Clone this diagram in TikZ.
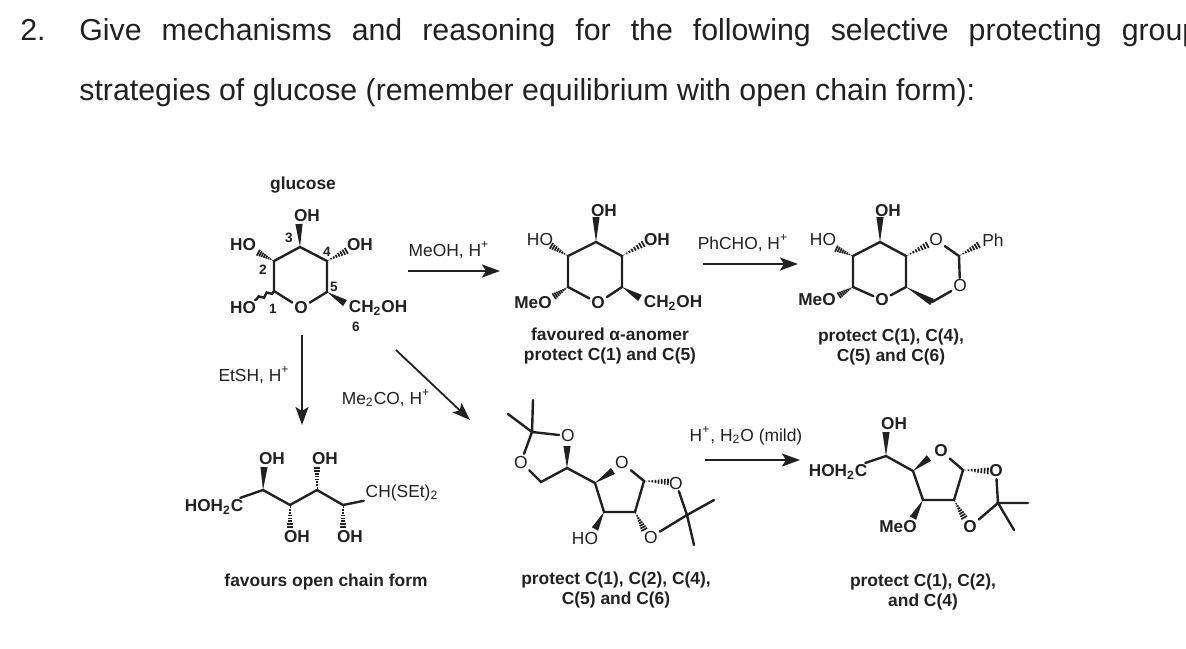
\documentclass[tikz,border=0pt]{standalone}
\usepackage{fontspec}
\setmainfont{Liberation Sans}
\usetikzlibrary{calc,arrows.meta,decorations.pathmorphing}

\definecolor{ink}{gray}{0.13}
\tikzset{
	bond/.style={line width=1.2pt,ink,line cap=round},
	rxn/.style={-{Stealth[length=9pt,width=6.5pt,inset=2pt]},line width=0.9pt,ink},
	wig/.style={bond,decorate,decoration={snake,amplitude=0.9pt,segment length=4.5pt}},
	atom/.style={inner sep=0pt,outer sep=1pt,text=ink,font=\fontsize{8.6}{10}\selectfont\bfseries},
	lite/.style={inner sep=0pt,outer sep=1pt,text=ink,font=\fontsize{8.7}{10}\selectfont},
	num/.style={inner sep=0pt,text=ink,font=\fontsize{6.8}{8}\selectfont\bfseries},
	legend/.style={inner sep=0pt,text=ink,align=center,font=\fontsize{8.7}{10}\selectfont\bfseries},
	head/.style={inner sep=0pt,anchor=base west,text=ink,font=\fontsize{15.15}{18}\selectfont},
}
\newcommand{\wedgebond}[2]{\fill[ink] (#1) -- ($(#2)!1.8pt!90:(#1)$) -- ($(#2)!1.8pt!-90:(#1)$) -- cycle;}
\newcommand{\hashbond}[2]{\foreach \t in {0.08,0.2,0.32,0.44,0.56,0.68,0.8,0.92} {
	\coordinate (hh) at ($(#1)!\t!(#2)$);
	\draw[ink,line width=0.85pt] ($(hh)!{\t*1.8pt}!90:(#2)$) -- ($(hh)!{\t*1.8pt}!-90:(#2)$);
}}

\begin{document}
\begin{tikzpicture}[x=0.5pt,y=-0.5pt]
	\useasboundingbox (0,0) rectangle (1186,648);

	% question
	\begin{scope}
		\clip (0,0) rectangle (1186,648);
		\node[head] (qnum) at (20,40) {2.};
		\node[head] (qone) at (79,40) {\makebox[560pt][s]{Give mechanisms and reasoning for the following selective protecting group}};
		\node[head] (qtwo) at (79,100) {strategies of glucose (remember equilibrium with open chain form):};
	\end{scope}

	% glucose
	\node[legend] (gName) at (303,185) {glucose};
	\coordinate (gC1) at (274,291);
	\coordinate (gC2) at (274,261);
	\coordinate (gC3) at (300,247);
	\coordinate (gC4) at (327,261);
	\coordinate (gC5) at (327,292);
	\node[atom] (gO) at (301,308) {O};
	\node[atom] (gOH3) at (307,216) {OH};
	\node[atom] (gOH2) at (243,245) {HO};
	\node[atom] (gOH1) at (243,308) {HO};
	\node[atom] (gOH4) at (360,245) {OH};
	\node[atom] (gCH) at (378,308) {CH\textsubscript{2}OH};
	\coordinate (gE3) at (299,224);
	\coordinate (gE2) at (257,252);
	\coordinate (gE1) at (255,300);
	\coordinate (gE4) at (348,250);
	\coordinate (gE5) at (345,303);
	\node[num] (gN1) at (273,309) {1};
	\node[num] (gN2) at (263,270) {2};
	\node[num] (gN3) at (289,238) {3};
	\node[num] (gN4) at (327,252) {4};
	\node[num] (gN5) at (334,287) {5};
	\node[num] (gN6) at (356,327) {6};
	\draw[bond] (gO) -- (gC1) -- (gC2) -- (gC3) -- (gC4) -- (gC5) -- (gO);
	\wedgebond{gC3}{gE3}
	\wedgebond{gC5}{gE5}
	\hashbond{gC2}{gE2}
	\hashbond{gC4}{gE4}
	\draw[wig] (gC1) -- (gE1);

	% methyl glycoside
	\coordinate (mC1) at (568,287);
	\coordinate (mC2) at (568,256);
	\coordinate (mC3) at (596,242);
	\coordinate (mC4) at (622,256);
	\coordinate (mC5) at (622,287);
	\node[atom] (mO) at (598,303) {O};
	\node[atom] (mOH3) at (604,211) {OH};
	\node[lite] (mOH2) at (540,240) {HO};
	\node[atom] (mOH4) at (657,240) {OH};
	\node[atom] (mOMe) at (533,303) {MeO};
	\node[atom] (mCH) at (673,303) {CH\textsubscript{2}OH};
	\coordinate (mE3) at (596,217);
	\coordinate (mE2) at (550,245);
	\coordinate (mE4) at (645,243);
	\coordinate (mE1) at (553,297);
	\coordinate (mE5) at (640,298);
	\draw[bond] (mO) -- (mC1) -- (mC2) -- (mC3) -- (mC4) -- (mC5) -- (mO);
	\wedgebond{mC3}{mE3}
	\wedgebond{mC5}{mE5}
	\hashbond{mC2}{mE2}
	\hashbond{mC4}{mE4}
	\hashbond{mC1}{mE1}
	\node[legend] (mLeg) at (610,346) {favoured α-anomer\\protect C(1) and C(5)};

	% benzylidene
	\coordinate (bC1) at (853,287);
	\coordinate (bC2) at (853,256);
	\coordinate (bC3) at (880,242);
	\coordinate (bC4) at (906,256);
	\coordinate (bC5) at (906,287);
	\coordinate (bC6) at (932,302);
	\coordinate (bCP) at (959,256);
	\node[atom] (bO) at (882,300) {O};
	\node[atom] (bOH3) at (888,211) {OH};
	\node[lite] (bOH2) at (823,240) {HO};
	\node[atom] (bOMe) at (817,300) {MeO};
	\node[lite] (bOa) at (936,240) {O};
	\node[lite] (bOb) at (960,286) {O};
	\node[lite] (bPh) at (993,240) {Ph};
	\coordinate (bE3) at (880,217);
	\coordinate (bE2) at (835,248);
	\coordinate (bE1) at (838,296);
	\coordinate (bE4) at (929,244);
	\coordinate (bEP) at (980,244);
	\draw[bond] (bO) -- (bC1) -- (bC2) -- (bC3) -- (bC4) -- (bC5) -- (bO);
	\draw[bond] (bOa) -- (bCP) -- (bOb) -- (bC6);
	\wedgebond{bC3}{bE3}
	\wedgebond{bC5}{bC6}
	\hashbond{bC2}{bE2}
	\hashbond{bC1}{bE1}
	\hashbond{bC4}{bE4}
	\hashbond{bCP}{bEP}
	\node[legend] (bLeg) at (891,347) {protect C(1), C(4),\\C(5) and C(6)};

	% open chain
	\node[atom] (tHO) at (214,507) {HOH\textsubscript{2}C};
	\coordinate (tC2) at (263,490);
	\coordinate (tC3) at (290,505);
	\coordinate (tC4) at (317,490);
	\coordinate (tC5) at (343,505);
	\node[lite] (tCH) at (402,493) {CH(SEt)\textsubscript{2}};
	\node[atom] (tOHa) at (272,459) {OH};
	\node[atom] (tOHb) at (325,459) {OH};
	\node[atom] (tOHc) at (297,537) {OH};
	\node[atom] (tOHd) at (350,537) {OH};
	\coordinate (tEa) at (264,467);
	\coordinate (tEb) at (317,466);
	\coordinate (tEc) at (290,529);
	\coordinate (tEd) at (343,529);
	\draw[bond] (tHO) -- (tC2) -- (tC3) -- (tC4) -- (tC5) -- (tCH);
	\wedgebond{tC2}{tEa}
	\hashbond{tC4}{tEb}
	\hashbond{tC3}{tEc}
	\hashbond{tC5}{tEd}
	\node[legend] (tLeg) at (326,582) {favours open chain form};

	% diacetonide
	\coordinate (dCa) at (532,432);
	\coordinate (dMa) at (533,400);
	\coordinate (dMb) at (508,414);
	\node[lite] (dOa) at (568,436) {O};
	\node[lite] (dOb) at (521,462) {O};
	\coordinate (dC6) at (541,482);
	\coordinate (dC5) at (567,468);
	\coordinate (dC4) at (595,483);
	\node[lite] (dO) at (622,463) {O};
	\coordinate (dC1) at (644,481);
	\coordinate (dC2) at (635,512);
	\coordinate (dC3) at (604,512);
	\node[lite] (dHO) at (585,538) {HO};
	\node[lite] (dOc) at (676,483) {O};
	\node[lite] (dOd) at (651,537) {O};
	\coordinate (dCb) at (687,515);
	\coordinate (dMc) at (714,500);
	\coordinate (dMd) at (694,545);
	\coordinate (dEa) at (567,446);
	\coordinate (dEb) at (613,471);
	\coordinate (dEc) at (595,529);
	\coordinate (dEd) at (670,482);
	\coordinate (dEe) at (645,531);
	\draw[bond] (dMa) -- (dCa) -- (dOa);
	\draw[bond] (dMb) -- (dCa) -- (dOb) -- (dC6) -- (dC5) -- (dC4) -- (dC3) -- (dC2) -- (dC1) -- (dO);
	\draw[bond] (dOc) -- (dCb) -- (dOd);
	\draw[bond] (dMc) -- (dCb) -- (dMd);
	\wedgebond{dC5}{dEa}
	\wedgebond{dC4}{dEb}
	\wedgebond{dC3}{dEc}
	\hashbond{dC1}{dEd}
	\hashbond{dC2}{dEe}
	\node[legend] (dLeg) at (616,590) {protect C(1), C(2), C(4),\\C(5) and C(6)};

	% furanose
	\coordinate (fC6) at (886,456);
	\node[atom] (fOH) at (894,424) {OH};
	\node[atom] (fHO) at (838,472) {HOH\textsubscript{2}C};
	\coordinate (fC4) at (913,471);
	\node[atom] (fO) at (941,451) {O};
	\coordinate (fC1) at (963,470);
	\coordinate (fC2) at (954,500);
	\coordinate (fC3) at (923,500);
	\node[atom] (fOMe) at (898,527) {MeO};
	\node[atom] (fOa) at (996,471) {O};
	\node[atom] (fOb) at (970,527) {O};
	\coordinate (fCb) at (998,503);
	\coordinate (fMa) at (1028,503);
	\coordinate (fMb) at (1014,530);
	\coordinate (fEa) at (886,432);
	\coordinate (fEb) at (929,458);
	\coordinate (fEc) at (913,518);
	\coordinate (fEd) at (990,471);
	\coordinate (fEe) at (965,519);
	\draw[bond] (fHO) -- (fC6) -- (fC4) -- (fC3) -- (fC2) -- (fC1) -- (fO);
	\draw[bond] (fOa) -- (fCb) -- (fOb);
	\draw[bond] (fMa) -- (fCb) -- (fMb);
	\wedgebond{fC6}{fEa}
	\wedgebond{fC4}{fEb}
	\wedgebond{fC3}{fEc}
	\hashbond{fC1}{fEd}
	\hashbond{fC2}{fEe}
	\node[legend] (fLeg) at (923,592) {protect C(1), C(2),\\and C(4)};

	% reaction arrows
	\coordinate (aS) at (408,271);
	\coordinate (aT) at (500,271);
	\coordinate (cS) at (703,264);
	\coordinate (cT) at (798,264);
	\coordinate (eS) at (302,335);
	\coordinate (eT) at (302,425);
	\coordinate (hS) at (396,350);
	\coordinate (hT) at (470,420);
	\coordinate (kS) at (705,460);
	\coordinate (kT) at (800,460);
	\draw[rxn] (aS) -- (aT);
	\draw[rxn] (cS) -- (cT);
	\draw[rxn] (eS) -- (eT);
	\draw[rxn] (hS) -- (hT);
	\draw[rxn] (kS) -- (kT);
	\node[lite] (aL) at (449,250) {MeOH, H\textsuperscript{+}};
	\node[lite] (cL) at (743,243) {PhCHO, H\textsuperscript{+}};
	\node[lite] (eL) at (254,375) {EtSH, H\textsuperscript{+}};
	\node[lite] (hL) at (386,398) {Me\textsubscript{2}CO, H\textsuperscript{+}};
	\node[lite] (kL) at (746,436) {H\textsuperscript{+}, H\textsubscript{2}O (mild)};
\end{tikzpicture}
\end{document}
